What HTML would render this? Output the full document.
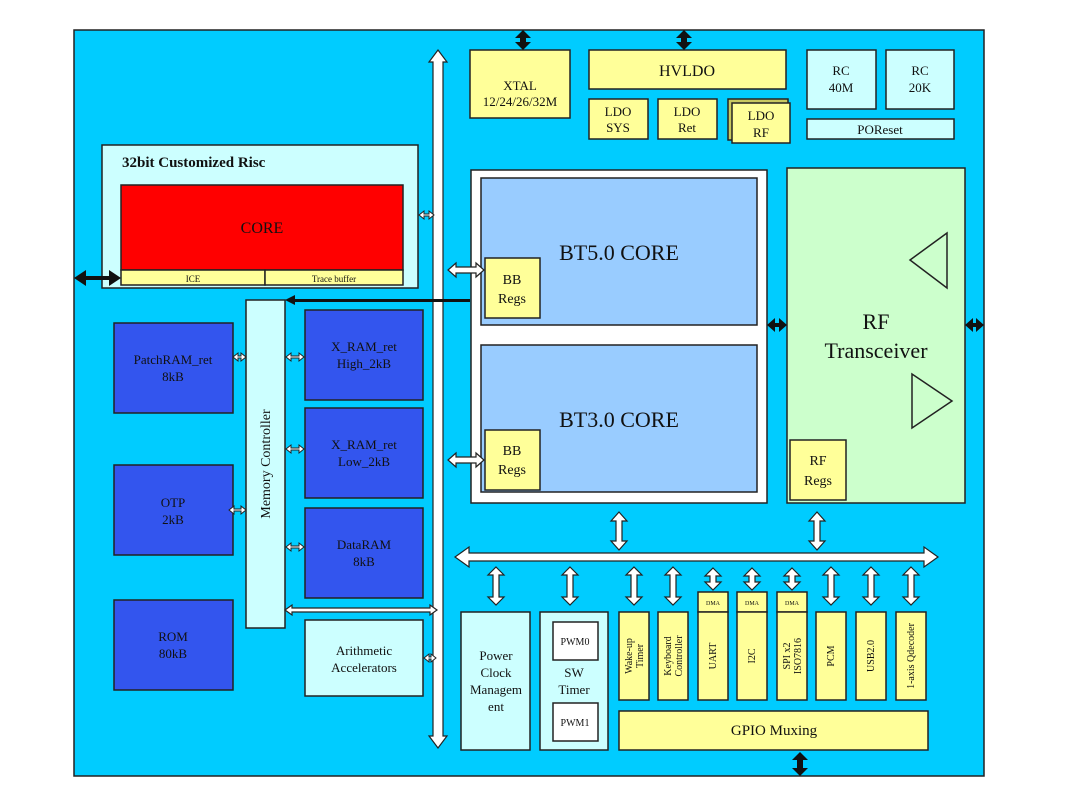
<!DOCTYPE html>
<html><head><meta charset="utf-8"><style>
body{margin:0;background:#fff;width:1080px;height:809px;overflow:hidden}
svg{display:block}
text{font-family:"Liberation Serif",serif;fill:#111}
</style></head><body>
<svg width="1080" height="809" viewBox="0 0 1080 809">
<rect x="74" y="30" width="910" height="746" fill="#00ccff" stroke="#222" stroke-width="1.5"/>
<g stroke="#222" stroke-width="1.5">
<rect x="470" y="50" width="100" height="68" fill="#ffff99"/>
<rect x="589" y="50" width="197" height="39" fill="#ffff99"/>
<rect x="589" y="99" width="59" height="40" fill="#ffff99"/>
<rect x="658" y="99" width="59" height="40" fill="#ffff99"/>
<rect x="728" y="99" width="60" height="41" fill="#c8c860"/>
<rect x="732" y="103" width="58" height="40" fill="#ffff99"/>
<rect x="807" y="50" width="69" height="59" fill="#ccffff"/>
<rect x="886" y="50" width="68" height="59" fill="#ccffff"/>
<rect x="807" y="119" width="147" height="20" fill="#ccffff"/>
<rect x="102" y="145" width="316" height="143" fill="#ccffff"/>
<rect x="121" y="185" width="282" height="85" fill="#ff0000"/>
<rect x="121" y="270" width="144" height="15" fill="#ffff99"/>
<rect x="265" y="270" width="138" height="15" fill="#ffff99"/>
<rect x="246" y="300" width="39" height="328" fill="#ccffff"/>
<rect x="114" y="323" width="119" height="90" fill="#3355ee"/>
<rect x="114" y="465" width="119" height="90" fill="#3355ee"/>
<rect x="114" y="600" width="119" height="90" fill="#3355ee"/>
<rect x="305" y="310" width="118" height="90" fill="#3355ee"/>
<rect x="305" y="408" width="118" height="90" fill="#3355ee"/>
<rect x="305" y="508" width="118" height="90" fill="#3355ee"/>
<rect x="305" y="620" width="118" height="76" fill="#ccffff"/>
<rect x="471" y="170" width="296" height="333" fill="#ffffff"/>
<rect x="481" y="178" width="276" height="147" fill="#99ccff"/>
<rect x="481" y="345" width="276" height="147" fill="#99ccff"/>
<rect x="485" y="258" width="55" height="60" fill="#ffff99"/>
<rect x="485" y="430" width="55" height="60" fill="#ffff99"/>
<rect x="787" y="168" width="178" height="335" fill="#ccffcc"/>
<rect x="790" y="440" width="56" height="60" fill="#ffff99"/>
<polygon points="947,233 947,288 910,260" fill="none"/>
<polygon points="912,374 912,428 952,401" fill="none"/>
<rect x="461" y="612" width="69" height="138" fill="#ccffff"/>
<rect x="540" y="612" width="68" height="138" fill="#ccffff"/>
<rect x="553" y="622" width="45" height="38" fill="#fff"/>
<rect x="553" y="703" width="45" height="38" fill="#fff"/>
<rect x="619" y="612" width="30" height="88" fill="#ffff99"/>
<rect x="658" y="612" width="30" height="88" fill="#ffff99"/>
<rect x="698" y="592" width="30" height="20" fill="#ffff99"/>
<rect x="698" y="612" width="30" height="88" fill="#ffff99"/>
<rect x="737" y="592" width="30" height="20" fill="#ffff99"/>
<rect x="737" y="612" width="30" height="88" fill="#ffff99"/>
<rect x="777" y="592" width="30" height="20" fill="#ffff99"/>
<rect x="777" y="612" width="30" height="88" fill="#ffff99"/>
<rect x="816" y="612" width="30" height="88" fill="#ffff99"/>
<rect x="856" y="612" width="30" height="88" fill="#ffff99"/>
<rect x="896" y="612" width="30" height="88" fill="#ffff99"/>
<rect x="619" y="711" width="309" height="39" fill="#ffff99"/>
</g>
<g fill="#fff" stroke="#222" stroke-width="1.2">
<polygon points="438,50 447,62 443,62 443,736 447,736 438,748 429,736 433,736 433,62 429,62"/>
<polygon points="455,557 469,547 469,553 924,553 924,547 938,557 924,567 924,561 469,561 469,567"/>
<polygon points="496,567 504,575 499,575 499,597 504,597 496,605 488,597 493,597 493,575 488,575"/>
<polygon points="570,567 578,575 573,575 573,597 578,597 570,605 562,597 567,597 567,575 562,575"/>
<polygon points="634,567 642,575 637,575 637,597 642,597 634,605 626,597 631,597 631,575 626,575"/>
<polygon points="673,567 681,575 676,575 676,597 681,597 673,605 665,597 670,597 670,575 665,575"/>
<polygon points="713,568 721,576 716,576 716,582 721,582 713,590 705,582 710,582 710,576 705,576"/>
<polygon points="752,568 760,576 755,576 755,582 760,582 752,590 744,582 749,582 749,576 744,576"/>
<polygon points="792,568 800,576 795,576 795,582 800,582 792,590 784,582 789,582 789,576 784,576"/>
<polygon points="831,567 839,575 834,575 834,597 839,597 831,605 823,597 828,597 828,575 823,575"/>
<polygon points="871,567 879,575 874,575 874,597 879,597 871,605 863,597 868,597 868,575 863,575"/>
<polygon points="911,567 919,575 914,575 914,597 919,597 911,605 903,597 908,597 908,575 903,575"/>
<polygon points="619,512 627,521 622,521 622,541 627,541 619,550 611,541 616,541 616,521 611,521"/>
<polygon points="817,512 825,521 820,521 820,541 825,541 817,550 809,541 814,541 814,521 809,521"/>
<polygon points="448,270 456,263 456,267 476,267 476,263 484,270 476,277 476,273 456,273 456,277"/>
<polygon points="448,460 456,453 456,457 476,457 476,453 484,460 476,467 476,463 456,463 456,467"/>
<polygon points="285,610 292,605 292,608 430,608 430,605 437,610 430,615 430,612 292,612 292,615"/>
<g stroke-width="1">
<polygon points="233,357 238,353 238,356 241,356 241,353 246,357 241,361 241,358 238,358 238,361"/>
<polygon points="229,510 234,506 234,509 241,509 241,506 246,510 241,514 241,511 234,511 234,514"/>
<polygon points="286,357 291,353 291,356 299,356 299,353 304,357 299,361 299,358 291,358 291,361"/>
<polygon points="286,449 291,445 291,448 299,448 299,445 304,449 299,453 299,450 291,450 291,453"/>
<polygon points="286,547 291,543 291,546 299,546 299,543 304,547 299,551 299,548 291,548 291,551"/>
<polygon points="424,658 429,654 429,657 431,657 431,654 436,658 431,662 431,659 429,659 429,662"/>
<polygon points="419,215 424,211 424,214 429,214 429,211 434,215 429,219 429,216 424,216 424,219"/>
</g>
</g>
<g fill="#111">
<polygon points="74,278 86,270 86,276 109,276 109,270 121,278 109,286 109,280 86,280 86,286"/>
<polygon points="285,300 295,295 295,299 470,299 470,302 295,302 295,305"/>
<polygon points="767,325 775,318 775,323 779,323 779,318 787,325 779,332 779,327 775,327 775,332"/>
<polygon points="965,325 973,318 973,323 976,323 976,318 984,325 976,332 976,327 973,327 973,332"/>
<polygon points="523,30 531,38 526,38 526,42 531,42 523,50 515,42 520,42 520,38 515,38"/>
<polygon points="684,30 692,38 687,38 687,42 692,42 684,50 676,42 681,42 681,38 676,38"/>
<polygon points="800,752 808,760 803,760 803,768 808,768 800,776 792,768 797,768 797,760 792,760"/>
</g>
<text x="122" y="167" font-size="15" font-weight="bold">32bit Customized Risc</text>
<g text-anchor="middle" font-size="13">
<text x="520" y="90">XTAL</text><text x="520" y="106">12/24/26/32M</text>
<text x="687" y="76" font-size="16">HVLDO</text>
<text x="618" y="116">LDO</text><text x="618" y="132">SYS</text>
<text x="687" y="116">LDO</text><text x="687" y="132">Ret</text>
<text x="761" y="120">LDO</text><text x="761" y="137">RF</text>
<text x="841" y="75">RC</text><text x="841" y="92">40M</text>
<text x="920" y="75">RC</text><text x="920" y="92">20K</text>
<text x="880" y="134">POReset</text>
<text x="262" y="233" font-size="16">CORE</text>
<text x="193" y="282" font-size="9">ICE</text>
<text x="334" y="282" font-size="9">Trace buffer</text>
<text x="173" y="364">PatchRAM_ret</text><text x="173" y="381">8kB</text>
<text x="173" y="507">OTP</text><text x="173" y="524">2kB</text>
<text x="173" y="641">ROM</text><text x="173" y="658">80kB</text>
<text x="364" y="351">X_RAM_ret</text><text x="364" y="368">High_2kB</text>
<text x="364" y="449">X_RAM_ret</text><text x="364" y="466">Low_2kB</text>
<text x="364" y="549">DataRAM</text><text x="364" y="566">8kB</text>
<text x="364" y="655">Arithmetic</text><text x="364" y="672">Accelerators</text>
<text transform="translate(270,464) rotate(-90)" font-size="14">Memory Controller</text>
<text x="619" y="260" font-size="22">BT5.0 CORE</text>
<text x="619" y="427" font-size="22">BT3.0 CORE</text>
<text x="512" y="284" font-size="14">BB</text><text x="512" y="303" font-size="14">Regs</text>
<text x="512" y="455" font-size="14">BB</text><text x="512" y="474" font-size="14">Regs</text>
<text x="876" y="329" font-size="22">RF</text><text x="876" y="358" font-size="22">Transceiver</text>
<text x="818" y="465" font-size="14">RF</text><text x="818" y="485" font-size="14">Regs</text>
<text x="496" y="660">Power</text><text x="496" y="677">Clock</text><text x="496" y="694">Managem</text><text x="496" y="711">ent</text>
<text x="575" y="645" font-size="10">PWM0</text><text x="575" y="726" font-size="10">PWM1</text>
<text x="574" y="677">SW</text><text x="574" y="694">Timer</text>
<text x="774" y="735" font-size="15">GPIO Muxing</text>
<g font-size="6"><text x="713" y="605">DMA</text><text x="752" y="605">DMA</text><text x="792" y="605">DMA</text></g>
<g font-size="10">
<text transform="translate(632,656) rotate(-90)">Wake-up</text><text transform="translate(643,656) rotate(-90)">Timer</text>
<text transform="translate(671,656) rotate(-90)">Keyboard</text><text transform="translate(682,656) rotate(-90)">Controller</text>
<text transform="translate(716,656) rotate(-90)">UART</text>
<text transform="translate(755,656) rotate(-90)">I2C</text>
<text transform="translate(790,656) rotate(-90)">SPI x2</text><text transform="translate(801,656) rotate(-90)">ISO7816</text>
<text transform="translate(834,656) rotate(-90)">PCM</text>
<text transform="translate(874,656) rotate(-90)">USB2.0</text>
<text transform="translate(914,656) rotate(-90)">1-axis Qdecoder</text>
</g>
</g>
</svg>
</body></html>
